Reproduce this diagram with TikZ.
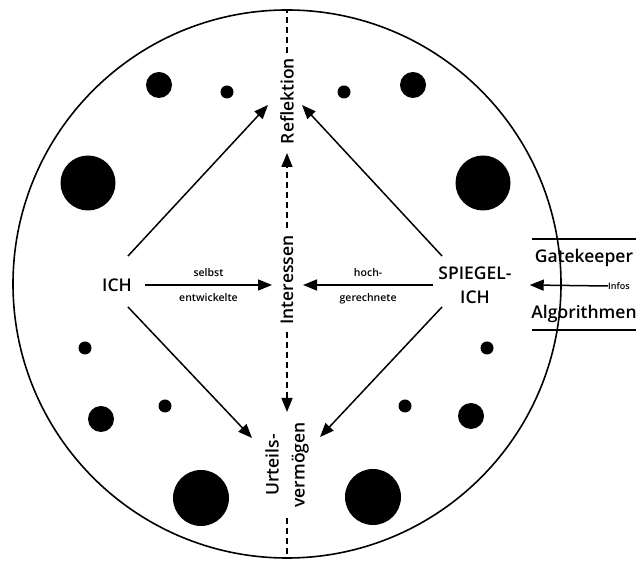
\documentclass[tikz,border=0pt]{standalone}
\usepackage{fontspec}
\setmainfont{Open Sans}[BoldFont={Open Sans Semibold}]
\usetikzlibrary{arrows.meta, calc}

\begin{document}
\begin{tikzpicture}[x=1pt, y=1pt, >={Triangle[length=14pt, width=11pt]},
    big/.style={font=\fontsize{17.5}{24}\selectfont\bfseries, align=center, inner sep=0pt},
    small/.style={font=\fontsize{10.5}{12}\selectfont\bfseries, inner sep=0pt},
    link/.style={->, line width=1.5pt},
    dashlink/.style={line width=1.5pt, dash pattern=on 6pt off 4pt}]
    \useasboundingbox (0,0) rectangle (639,561);

    % === Circle with dots ===
    \def\cx{287} % centre x
    \def\cy{277} % centre y
    \def\R{274}  % radius
    \draw[line width=1.6pt] (\cx,\cy) circle (\R);
    \coordinate (TOP) at (\cx,\cy+\R);
    \coordinate (BOT) at (\cx,\cy-\R);

    % dots: x / y / radius
    \foreach \x/\y/\r in {88/378/27.5, 159/476/13, 227/469/6.5,
                          344/469/6.5, 413/476/13, 483/378/27.5,
                          85/213/6.5, 101/142/13, 165/155/6.5, 201/63/28,
                          487/213/6.5, 471/145/13, 405/155/6.5, 373/64/28}
        \fill (\x,\y) circle (\r);

    % === Nodes ===
    \node[big] (ich) at (117,276) {ICH};
    \node[big] (spiegel) at (475,276) {SPIEGEL-\\ICH};
    \node[big, rotate=90] (refl) at (287,460) {Reflektion};
    \node[big, rotate=90] (inter) at (287,281) {Interessen};
    \node[big, rotate=90, font=\fontsize{17.5}{26}\selectfont\bfseries] (urteil) at (287,96) {Urteils-\\vermögen};

    % vertical axis
    \draw[dashlink] ([yshift=5pt]refl.east) -- (TOP);
    \draw[dashlink, ->] ([yshift=7pt]inter.east) -- ($(refl)+(0,-52)$);
    \draw[dashlink, ->] ([yshift=-7pt]inter.west) -- ($(urteil)+(0,53)$);
    \draw[dashlink] ([yshift=-10pt]urteil.west) -- (BOT);

    % diagonals
    \draw[link] ($(ich)+(11,29)$) -- ($(refl)+(-19,-4)$);
    \draw[link] ($(spiegel)+(-33,29)$) -- ($(refl)+(15,-4)$);
    \draw[link] ($(ich)+(11,-22)$) -- ($(urteil)+(-35,27)$);
    \draw[link] ($(spiegel)+(-33,-22)$) -- ($(urteil)+(33,28)$);

    % horizontal arrows into Interessen
    \draw[link] ([xshift=13pt]ich.east) -- ($(inter.center)+(-15,-5)$)
        node[small, pos=0.5, above=8pt] {selbst}
        node[small, pos=0.5, below=8pt] {entwickelte};
    \draw[link] ([xshift=-5pt]spiegel.west) -- ($(inter.center)+(16,-5)$)
        node[small, pos=0.5, above=8pt] {hoch-}
        node[small, pos=0.5, below=8pt] {gerechnete};

    % === Right: Gatekeeper / Algorithmen ===
    \node[big] (gate) at (584,303) {Gatekeeper};
    \node[big] (algo) at (584,247) {Algorithmen};
    \node[small, font=\fontsize{9}{11}\selectfont\bfseries] (infos) at (619,275) {Infos};
    \draw[line width=1.5pt] (532,322) -- (636,322);
    \draw[line width=1.5pt] (532,231) -- (636,231);
    \draw[link] (infos.west) -- ([xshift=-5pt]spiegel.east -| gate.west);
\end{tikzpicture}
\end{document}
